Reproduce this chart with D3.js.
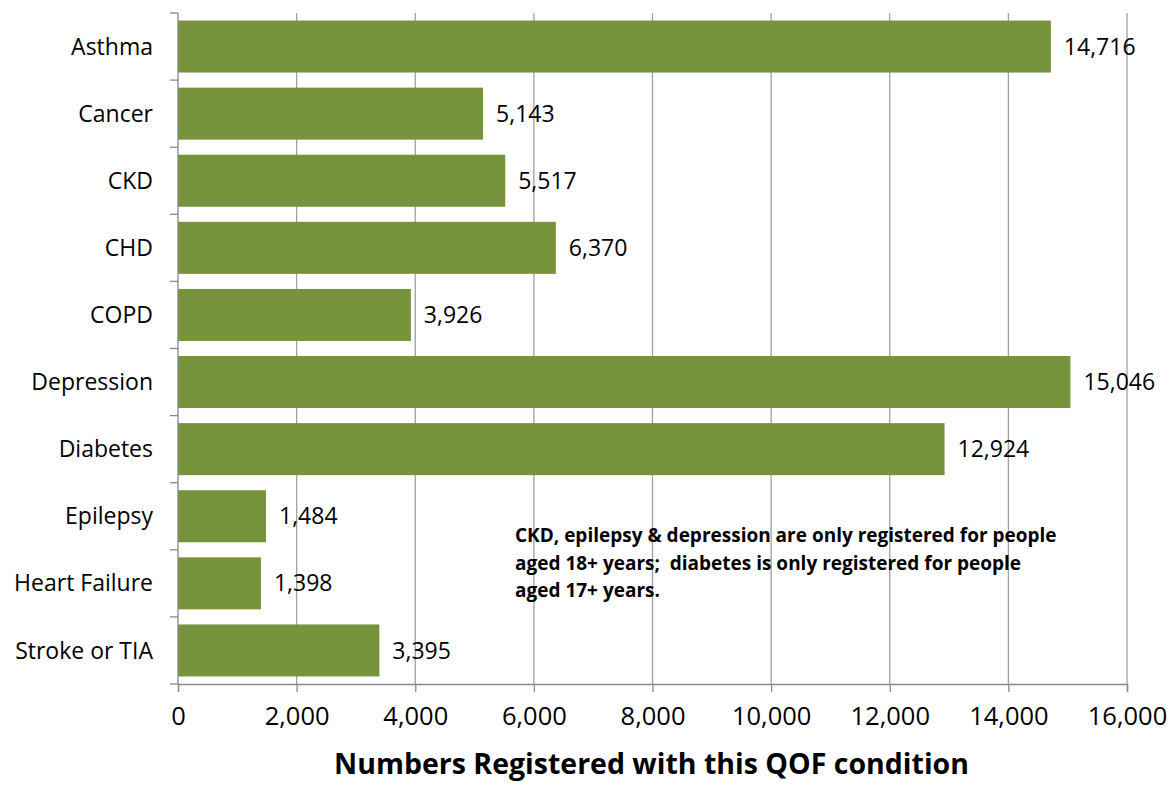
<!DOCTYPE html>
<html>
<head>
<meta charset="utf-8">
<script src="https://cdn.jsdelivr.net/npm/d3@7"></script>
<style>
  body { margin: 0; background: #fff; }
  svg text { font-family: "Open Sans", "Noto Sans", sans-serif; fill: #000; }
</style>
</head>
<body>
<div id="chart"></div>
<script>
// QOF registers by condition
var conditions = ["Asthma", "Cancer", "CKD", "CHD", "COPD", "Depression", "Diabetes", "Epilepsy", "Heart Failure", "Stroke or TIA"];
var registered = [14716, 5143, 5517, 6370, 3926, 15046, 12924, 1484, 1398, 3395];
var xTicks = [0, 2000, 4000, 6000, 8000, 10000, 12000, 14000, 16000];
var xTitle = "Numbers Registered with this QOF condition";
var noteLines = ["CKD, epilepsy & depression are only registered for people",
                 "aged 18+ years;  diabetes is only registered for people",
                 "aged 17+ years."];

var W = 1173, H = 785;
var margin = {top: 13, right: 46, bottom: 101, left: 178};
var width = W - margin.left - margin.right,
    height = H - margin.top - margin.bottom;

var svg = d3.select("#chart").append("svg")
    .attr("width", W).attr("height", H)
  .append("g")
    .attr("transform", "translate(" + margin.left + "," + margin.top + ")");

var x = d3.scaleLinear().domain([0, 16000]).range([0, width]);
var y = d3.scaleBand().domain(conditions).range([0, height]).paddingInner(0.225).paddingOuter(0.1125);

var fmt = d3.format(",");

// gridlines
svg.selectAll("line.grid")
    .data(xTicks.slice(1))
    .enter().append("line")
    .attr("class", "grid")
    .attr("x1", function(d) { return x(d); })
    .attr("x2", function(d) { return x(d); })
    .attr("y1", 0).attr("y2", height)
    .style("stroke", "#a0a0a0").style("stroke-width", 1.3);

// bars
svg.selectAll("rect.bar")
    .data(conditions)
    .enter().append("rect")
    .attr("class", "bar")
    .attr("x", 0)
    .attr("y", function(d) { return y(d); })
    .attr("width", function(d, i) { return x(registered[i]); })
    .attr("height", y.bandwidth())
    .style("fill", "#77933C");

// value labels
svg.selectAll("text.val")
    .data(conditions)
    .enter().append("text")
    .attr("class", "val")
    .attr("x", function(d, i) { return x(registered[i]) + 13; })
    .attr("y", function(d) { return y(d) + y.bandwidth() / 2; })
    .attr("dy", "0.35em")
    .style("font-size", "23px")
    .text(function(d, i) { return fmt(registered[i]); });

// x axis
var xAxis = svg.append("g")
    .attr("transform", "translate(0," + height + ")")
    .call(d3.axisBottom(x).tickValues(xTicks).tickFormat(fmt).tickSizeOuter(0).tickSize(8).tickPadding(15));
xAxis.selectAll("text").style("font-size", "25.5px").style("font-family", "'Open Sans', sans-serif");
xAxis.selectAll("line, path").style("stroke", "#888").style("stroke-width", 1.3);

// y axis: ticks between categories
var yAxis = svg.append("g");
yAxis.append("line")
    .attr("x1", 0).attr("x2", 0).attr("y1", 0).attr("y2", height)
    .style("stroke", "#888").style("stroke-width", 1.3);
var bounds = d3.range(conditions.length + 1).map(function(i) { return i * y.step(); });
yAxis.selectAll("line.tick")
    .data(bounds)
    .enter().append("line")
    .attr("class", "tick")
    .attr("x1", -8).attr("x2", 0)
    .attr("y1", function(d) { return d; })
    .attr("y2", function(d) { return d; })
    .style("stroke", "#888").style("stroke-width", 1.3);
yAxis.selectAll("text")
    .data(conditions)
    .enter().append("text")
    .attr("x", -25)
    .attr("y", function(d) { return y(d) + y.bandwidth() / 2; })
    .attr("dy", "0.35em")
    .style("text-anchor", "end")
    .style("font-size", "23px")
    .text(function(d) { return d; });

// x title
svg.append("text")
    .attr("x", (333 + 970) / 2 - margin.left)
    .attr("y", height + 90)
    .style("text-anchor", "middle")
    .style("font-size", "28.5px")
    .style("font-weight", "bold")
    .text(xTitle);

// note
svg.append("g").selectAll("text")
    .data(noteLines)
    .enter().append("text")
    .attr("x", 515 - margin.left)
    .attr("y", function(d, i) { return 542 - margin.top + i * 27.5; })
    .style("font-size", "19px")
    .style("font-weight", "bold")
    .style("white-space", "pre")
    .text(function(d) { return d; });
</script>
</body>
</html>
